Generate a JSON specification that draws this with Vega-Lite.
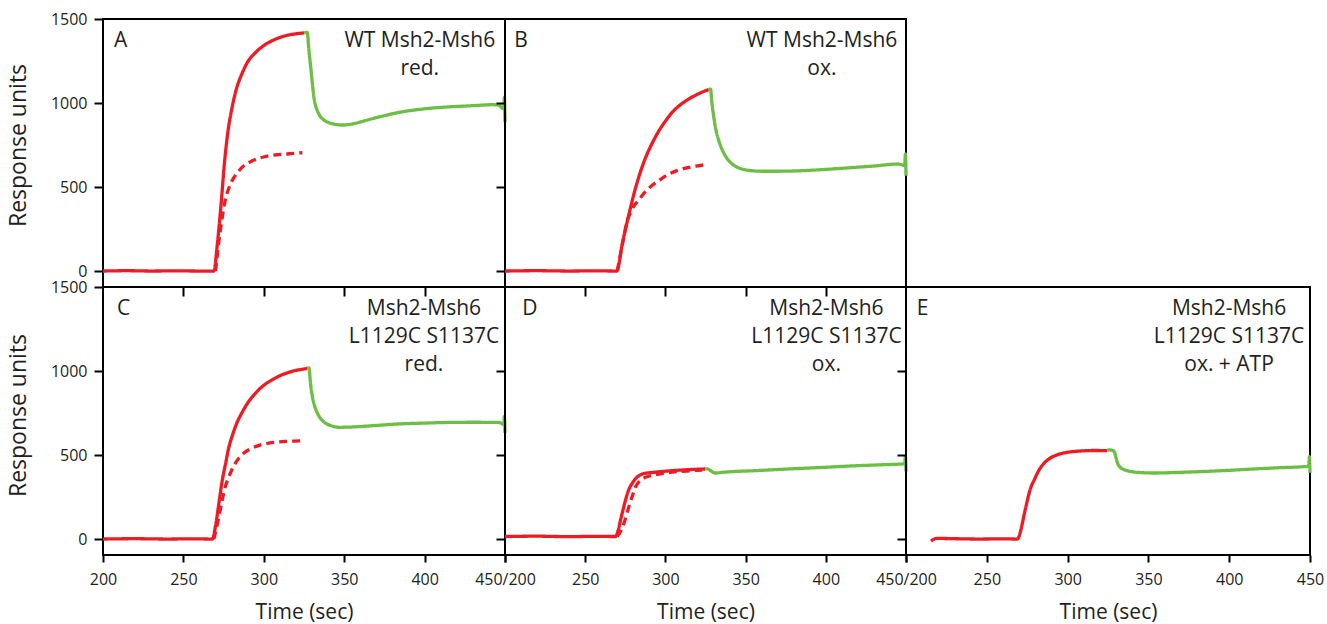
{
  "$schema": "https://vega.github.io/schema/vega-lite/v6.json",
  "padding": {"left": 6, "top": 10, "right": 0, "bottom": 0},
  "background": "white",
  "columns": 3,
  "spacing": 0,
  "bounds": "flush",
  "datasets": {
    "curves": [
      {"panel": "A", "phase": "association", "time": 200, "ru": 0},
      {"panel": "A", "phase": "association", "time": 215, "ru": 2},
      {"panel": "A", "phase": "association", "time": 230, "ru": 0},
      {"panel": "A", "phase": "association", "time": 245, "ru": 1},
      {"panel": "A", "phase": "association", "time": 260, "ru": 0},
      {"panel": "A", "phase": "association", "time": 269, "ru": 0},
      {"panel": "A", "phase": "association", "time": 271, "ru": 150},
      {"panel": "A", "phase": "association", "time": 273, "ru": 350},
      {"panel": "A", "phase": "association", "time": 276, "ru": 690},
      {"panel": "A", "phase": "association", "time": 278, "ru": 850},
      {"panel": "A", "phase": "association", "time": 280, "ru": 960},
      {"panel": "A", "phase": "association", "time": 283, "ru": 1085},
      {"panel": "A", "phase": "association", "time": 286, "ru": 1165},
      {"panel": "A", "phase": "association", "time": 290, "ru": 1245},
      {"panel": "A", "phase": "association", "time": 295, "ru": 1302},
      {"panel": "A", "phase": "association", "time": 300, "ru": 1342},
      {"panel": "A", "phase": "association", "time": 305, "ru": 1370},
      {"panel": "A", "phase": "association", "time": 310, "ru": 1390},
      {"panel": "A", "phase": "association", "time": 315, "ru": 1404},
      {"panel": "A", "phase": "association", "time": 320, "ru": 1412},
      {"panel": "A", "phase": "association", "time": 325, "ru": 1417},
      {"panel": "A", "phase": "dissociation", "time": 325, "ru": 1417},
      {"panel": "A", "phase": "dissociation", "time": 327, "ru": 1420},
      {"panel": "A", "phase": "dissociation", "time": 328, "ru": 1320},
      {"panel": "A", "phase": "dissociation", "time": 329.2, "ru": 1212},
      {"panel": "A", "phase": "dissociation", "time": 331.2, "ru": 1033},
      {"panel": "A", "phase": "dissociation", "time": 334.3, "ru": 934},
      {"panel": "A", "phase": "dissociation", "time": 337, "ru": 902},
      {"panel": "A", "phase": "dissociation", "time": 340.5, "ru": 883},
      {"panel": "A", "phase": "dissociation", "time": 345, "ru": 872},
      {"panel": "A", "phase": "dissociation", "time": 348.8, "ru": 869},
      {"panel": "A", "phase": "dissociation", "time": 355, "ru": 875},
      {"panel": "A", "phase": "dissociation", "time": 363, "ru": 895},
      {"panel": "A", "phase": "dissociation", "time": 373, "ru": 920},
      {"panel": "A", "phase": "dissociation", "time": 384, "ru": 944},
      {"panel": "A", "phase": "dissociation", "time": 395, "ru": 960},
      {"panel": "A", "phase": "dissociation", "time": 404.8, "ru": 970},
      {"panel": "A", "phase": "dissociation", "time": 415, "ru": 977},
      {"panel": "A", "phase": "dissociation", "time": 425.5, "ru": 982},
      {"panel": "A", "phase": "dissociation", "time": 435, "ru": 987},
      {"panel": "A", "phase": "dissociation", "time": 442, "ru": 990},
      {"panel": "A", "phase": "dissociation", "time": 446, "ru": 988},
      {"panel": "A", "phase": "dissociation", "time": 449.2, "ru": 965},
      {"panel": "A", "phase": "dissociation", "time": 449.6, "ru": 1035},
      {"panel": "A", "phase": "dissociation", "time": 450, "ru": 885},
      {"panel": "A", "phase": "fit", "time": 270, "ru": 0},
      {"panel": "A", "phase": "fit", "time": 272, "ru": 170},
      {"panel": "A", "phase": "fit", "time": 274, "ru": 310},
      {"panel": "A", "phase": "fit", "time": 276, "ru": 420},
      {"panel": "A", "phase": "fit", "time": 278.4, "ru": 497},
      {"panel": "A", "phase": "fit", "time": 281, "ru": 550},
      {"panel": "A", "phase": "fit", "time": 284.6, "ru": 597},
      {"panel": "A", "phase": "fit", "time": 288, "ru": 630},
      {"panel": "A", "phase": "fit", "time": 292.9, "ru": 656},
      {"panel": "A", "phase": "fit", "time": 298, "ru": 674},
      {"panel": "A", "phase": "fit", "time": 303.2, "ru": 686},
      {"panel": "A", "phase": "fit", "time": 308, "ru": 692},
      {"panel": "A", "phase": "fit", "time": 313.6, "ru": 696},
      {"panel": "A", "phase": "fit", "time": 318, "ru": 700},
      {"panel": "A", "phase": "fit", "time": 324, "ru": 704},

      {"panel": "B", "phase": "association", "time": 200, "ru": 0},
      {"panel": "B", "phase": "association", "time": 220, "ru": 2},
      {"panel": "B", "phase": "association", "time": 240, "ru": 0},
      {"panel": "B", "phase": "association", "time": 255, "ru": 1},
      {"panel": "B", "phase": "association", "time": 269.7, "ru": 0},
      {"panel": "B", "phase": "association", "time": 273.1, "ru": 161},
      {"panel": "B", "phase": "association", "time": 277.3, "ru": 339},
      {"panel": "B", "phase": "association", "time": 281.5, "ru": 498},
      {"panel": "B", "phase": "association", "time": 287.7, "ru": 676},
      {"panel": "B", "phase": "association", "time": 292, "ru": 765},
      {"panel": "B", "phase": "association", "time": 296, "ru": 835},
      {"panel": "B", "phase": "association", "time": 300, "ru": 892},
      {"panel": "B", "phase": "association", "time": 304.2, "ru": 944},
      {"panel": "B", "phase": "association", "time": 309, "ru": 987},
      {"panel": "B", "phase": "association", "time": 314.6, "ru": 1024},
      {"panel": "B", "phase": "association", "time": 320, "ru": 1052},
      {"panel": "B", "phase": "association", "time": 325, "ru": 1073},
      {"panel": "B", "phase": "association", "time": 327, "ru": 1080},
      {"panel": "B", "phase": "dissociation", "time": 327, "ru": 1080},
      {"panel": "B", "phase": "dissociation", "time": 328.1, "ru": 1083},
      {"panel": "B", "phase": "dissociation", "time": 329, "ru": 1000},
      {"panel": "B", "phase": "dissociation", "time": 330.2, "ru": 914},
      {"panel": "B", "phase": "dissociation", "time": 331.5, "ru": 840},
      {"panel": "B", "phase": "dissociation", "time": 333.3, "ru": 776},
      {"panel": "B", "phase": "dissociation", "time": 336, "ru": 710},
      {"panel": "B", "phase": "dissociation", "time": 339.5, "ru": 657},
      {"panel": "B", "phase": "dissociation", "time": 343, "ru": 628},
      {"panel": "B", "phase": "dissociation", "time": 347.8, "ru": 607},
      {"panel": "B", "phase": "dissociation", "time": 353, "ru": 598},
      {"panel": "B", "phase": "dissociation", "time": 360.2, "ru": 594},
      {"panel": "B", "phase": "dissociation", "time": 370, "ru": 594},
      {"panel": "B", "phase": "dissociation", "time": 387.2, "ru": 598},
      {"panel": "B", "phase": "dissociation", "time": 400, "ru": 605},
      {"panel": "B", "phase": "dissociation", "time": 418.3, "ru": 617},
      {"panel": "B", "phase": "dissociation", "time": 430, "ru": 625},
      {"panel": "B", "phase": "dissociation", "time": 445.2, "ru": 637},
      {"panel": "B", "phase": "dissociation", "time": 449.2, "ru": 628},
      {"panel": "B", "phase": "dissociation", "time": 449.6, "ru": 697},
      {"panel": "B", "phase": "dissociation", "time": 450, "ru": 567},
      {"panel": "B", "phase": "fit", "time": 270, "ru": 0},
      {"panel": "B", "phase": "fit", "time": 273, "ru": 150},
      {"panel": "B", "phase": "fit", "time": 276, "ru": 290},
      {"panel": "B", "phase": "fit", "time": 278.5, "ru": 355},
      {"panel": "B", "phase": "fit", "time": 283.5, "ru": 425},
      {"panel": "B", "phase": "fit", "time": 287, "ru": 467},
      {"panel": "B", "phase": "fit", "time": 291.8, "ru": 510},
      {"panel": "B", "phase": "fit", "time": 297, "ru": 546},
      {"panel": "B", "phase": "fit", "time": 302.2, "ru": 577},
      {"panel": "B", "phase": "fit", "time": 308, "ru": 600},
      {"panel": "B", "phase": "fit", "time": 314.6, "ru": 617},
      {"panel": "B", "phase": "fit", "time": 320, "ru": 626},
      {"panel": "B", "phase": "fit", "time": 325, "ru": 633},

      {"panel": "C", "phase": "association", "time": 200, "ru": 0},
      {"panel": "C", "phase": "association", "time": 220, "ru": 2},
      {"panel": "C", "phase": "association", "time": 240, "ru": 0},
      {"panel": "C", "phase": "association", "time": 255, "ru": 1},
      {"panel": "C", "phase": "association", "time": 268, "ru": 0},
      {"panel": "C", "phase": "association", "time": 270, "ru": 80},
      {"panel": "C", "phase": "association", "time": 272.1, "ru": 214},
      {"panel": "C", "phase": "association", "time": 274, "ru": 340},
      {"panel": "C", "phase": "association", "time": 276.3, "ru": 452},
      {"panel": "C", "phase": "association", "time": 278, "ru": 535},
      {"panel": "C", "phase": "association", "time": 280.4, "ru": 615},
      {"panel": "C", "phase": "association", "time": 283, "ru": 685},
      {"panel": "C", "phase": "association", "time": 286.6, "ru": 755},
      {"panel": "C", "phase": "association", "time": 290, "ru": 810},
      {"panel": "C", "phase": "association", "time": 294.9, "ru": 869},
      {"panel": "C", "phase": "association", "time": 300, "ru": 915},
      {"panel": "C", "phase": "association", "time": 305.3, "ru": 948},
      {"panel": "C", "phase": "association", "time": 310, "ru": 972},
      {"panel": "C", "phase": "association", "time": 315.6, "ru": 992},
      {"panel": "C", "phase": "association", "time": 320, "ru": 1004},
      {"panel": "C", "phase": "association", "time": 325, "ru": 1012},
      {"panel": "C", "phase": "association", "time": 327, "ru": 1016},
      {"panel": "C", "phase": "dissociation", "time": 327, "ru": 1016},
      {"panel": "C", "phase": "dissociation", "time": 328.1, "ru": 1018},
      {"panel": "C", "phase": "dissociation", "time": 329, "ru": 930},
      {"panel": "C", "phase": "dissociation", "time": 330.2, "ru": 849},
      {"panel": "C", "phase": "dissociation", "time": 331.5, "ru": 795},
      {"panel": "C", "phase": "dissociation", "time": 333.3, "ru": 750},
      {"panel": "C", "phase": "dissociation", "time": 335.5, "ru": 715},
      {"panel": "C", "phase": "dissociation", "time": 338.4, "ru": 690},
      {"panel": "C", "phase": "dissociation", "time": 342, "ru": 674},
      {"panel": "C", "phase": "dissociation", "time": 346.8, "ru": 665},
      {"panel": "C", "phase": "dissociation", "time": 355.1, "ru": 667},
      {"panel": "C", "phase": "dissociation", "time": 370, "ru": 676},
      {"panel": "C", "phase": "dissociation", "time": 384, "ru": 685},
      {"panel": "C", "phase": "dissociation", "time": 400, "ru": 690},
      {"panel": "C", "phase": "dissociation", "time": 415.2, "ru": 694},
      {"panel": "C", "phase": "dissociation", "time": 430, "ru": 695},
      {"panel": "C", "phase": "dissociation", "time": 446.3, "ru": 694},
      {"panel": "C", "phase": "dissociation", "time": 449.2, "ru": 682},
      {"panel": "C", "phase": "dissociation", "time": 449.6, "ru": 730},
      {"panel": "C", "phase": "dissociation", "time": 450, "ru": 631},
      {"panel": "C", "phase": "fit", "time": 269, "ru": 0},
      {"panel": "C", "phase": "fit", "time": 272, "ru": 130},
      {"panel": "C", "phase": "fit", "time": 274.2, "ru": 234},
      {"panel": "C", "phase": "fit", "time": 276, "ru": 310},
      {"panel": "C", "phase": "fit", "time": 278.4, "ru": 373},
      {"panel": "C", "phase": "fit", "time": 281, "ru": 430},
      {"panel": "C", "phase": "fit", "time": 284.6, "ru": 482},
      {"panel": "C", "phase": "fit", "time": 288, "ru": 515},
      {"panel": "C", "phase": "fit", "time": 292.9, "ru": 542},
      {"panel": "C", "phase": "fit", "time": 298, "ru": 560},
      {"panel": "C", "phase": "fit", "time": 303.2, "ru": 571},
      {"panel": "C", "phase": "fit", "time": 308, "ru": 577},
      {"panel": "C", "phase": "fit", "time": 313.6, "ru": 581},
      {"panel": "C", "phase": "fit", "time": 319, "ru": 583},
      {"panel": "C", "phase": "fit", "time": 325, "ru": 585},

      {"panel": "D", "phase": "association", "time": 200, "ru": 15},
      {"panel": "D", "phase": "association", "time": 220, "ru": 17},
      {"panel": "D", "phase": "association", "time": 240, "ru": 14},
      {"panel": "D", "phase": "association", "time": 255, "ru": 16},
      {"panel": "D", "phase": "association", "time": 269, "ru": 15},
      {"panel": "D", "phase": "association", "time": 270.5, "ru": 50},
      {"panel": "D", "phase": "association", "time": 272.1, "ru": 115},
      {"panel": "D", "phase": "association", "time": 275.2, "ru": 234},
      {"panel": "D", "phase": "association", "time": 277, "ru": 290},
      {"panel": "D", "phase": "association", "time": 279.4, "ru": 333},
      {"panel": "D", "phase": "association", "time": 282, "ru": 365},
      {"panel": "D", "phase": "association", "time": 284.6, "ru": 383},
      {"panel": "D", "phase": "association", "time": 288, "ru": 392},
      {"panel": "D", "phase": "association", "time": 291.8, "ru": 396},
      {"panel": "D", "phase": "association", "time": 298, "ru": 402},
      {"panel": "D", "phase": "association", "time": 304.2, "ru": 407},
      {"panel": "D", "phase": "association", "time": 314.6, "ru": 413},
      {"panel": "D", "phase": "association", "time": 325, "ru": 417},
      {"panel": "D", "phase": "dissociation", "time": 325, "ru": 417},
      {"panel": "D", "phase": "dissociation", "time": 326, "ru": 418},
      {"panel": "D", "phase": "dissociation", "time": 328, "ru": 408},
      {"panel": "D", "phase": "dissociation", "time": 330, "ru": 396},
      {"panel": "D", "phase": "dissociation", "time": 331.2, "ru": 393},
      {"panel": "D", "phase": "dissociation", "time": 335.4, "ru": 397},
      {"panel": "D", "phase": "dissociation", "time": 356.1, "ru": 407},
      {"panel": "D", "phase": "dissociation", "time": 376.8, "ru": 417},
      {"panel": "D", "phase": "dissociation", "time": 397.5, "ru": 426},
      {"panel": "D", "phase": "dissociation", "time": 418.3, "ru": 436},
      {"panel": "D", "phase": "dissociation", "time": 435, "ru": 442},
      {"panel": "D", "phase": "dissociation", "time": 449.2, "ru": 448},
      {"panel": "D", "phase": "dissociation", "time": 449.6, "ru": 492},
      {"panel": "D", "phase": "dissociation", "time": 450, "ru": 402},
      {"panel": "D", "phase": "fit", "time": 270, "ru": 15},
      {"panel": "D", "phase": "fit", "time": 272, "ru": 45},
      {"panel": "D", "phase": "fit", "time": 274.2, "ru": 95},
      {"panel": "D", "phase": "fit", "time": 277.3, "ru": 194},
      {"panel": "D", "phase": "fit", "time": 279.5, "ru": 260},
      {"panel": "D", "phase": "fit", "time": 281.5, "ru": 313},
      {"panel": "D", "phase": "fit", "time": 284, "ru": 345},
      {"panel": "D", "phase": "fit", "time": 286.6, "ru": 363},
      {"panel": "D", "phase": "fit", "time": 290, "ru": 375},
      {"panel": "D", "phase": "fit", "time": 293.9, "ru": 383},
      {"panel": "D", "phase": "fit", "time": 299, "ru": 392},
      {"panel": "D", "phase": "fit", "time": 304.2, "ru": 399},
      {"panel": "D", "phase": "fit", "time": 313, "ru": 405},
      {"panel": "D", "phase": "fit", "time": 322.9, "ru": 411},

      {"panel": "E", "phase": "association", "time": 215.5, "ru": -12},
      {"panel": "E", "phase": "association", "time": 219, "ru": 4},
      {"panel": "E", "phase": "association", "time": 230, "ru": 2},
      {"panel": "E", "phase": "association", "time": 245, "ru": 0},
      {"panel": "E", "phase": "association", "time": 260, "ru": 1},
      {"panel": "E", "phase": "association", "time": 269, "ru": 0},
      {"panel": "E", "phase": "association", "time": 271.1, "ru": 55},
      {"panel": "E", "phase": "association", "time": 273, "ru": 140},
      {"panel": "E", "phase": "association", "time": 275.2, "ru": 234},
      {"panel": "E", "phase": "association", "time": 277, "ru": 300},
      {"panel": "E", "phase": "association", "time": 279.4, "ru": 353},
      {"panel": "E", "phase": "association", "time": 282, "ru": 405},
      {"panel": "E", "phase": "association", "time": 285.5, "ru": 452},
      {"panel": "E", "phase": "association", "time": 289, "ru": 480},
      {"panel": "E", "phase": "association", "time": 293.8, "ru": 502},
      {"panel": "E", "phase": "association", "time": 298, "ru": 513},
      {"panel": "E", "phase": "association", "time": 304.1, "ru": 521},
      {"panel": "E", "phase": "association", "time": 310, "ru": 525},
      {"panel": "E", "phase": "association", "time": 316.4, "ru": 527},
      {"panel": "E", "phase": "association", "time": 324.7, "ru": 526},
      {"panel": "E", "phase": "dissociation", "time": 324.7, "ru": 526},
      {"panel": "E", "phase": "dissociation", "time": 325.7, "ru": 531},
      {"panel": "E", "phase": "dissociation", "time": 328.8, "ru": 522},
      {"panel": "E", "phase": "dissociation", "time": 329.8, "ru": 490},
      {"panel": "E", "phase": "dissociation", "time": 330.9, "ru": 452},
      {"panel": "E", "phase": "dissociation", "time": 332.5, "ru": 428},
      {"panel": "E", "phase": "dissociation", "time": 335, "ru": 413},
      {"panel": "E", "phase": "dissociation", "time": 339, "ru": 402},
      {"panel": "E", "phase": "dissociation", "time": 343.2, "ru": 397},
      {"panel": "E", "phase": "dissociation", "time": 353.5, "ru": 393},
      {"panel": "E", "phase": "dissociation", "time": 370, "ru": 397},
      {"panel": "E", "phase": "dissociation", "time": 384.4, "ru": 402},
      {"panel": "E", "phase": "dissociation", "time": 400, "ru": 409},
      {"panel": "E", "phase": "dissociation", "time": 415.3, "ru": 417},
      {"panel": "E", "phase": "dissociation", "time": 430, "ru": 424},
      {"panel": "E", "phase": "dissociation", "time": 449.2, "ru": 433},
      {"panel": "E", "phase": "dissociation", "time": 449.6, "ru": 490},
      {"panel": "E", "phase": "dissociation", "time": 450, "ru": 395}
    ]
  },
  "concat": [
    {
      "width": 402, "height": 268,
      "layer": [
        {
          "data": {"name": "curves"},
          "transform": [{"filter": "datum.panel === 'A'"}],
          "mark": {"type": "line", "strokeWidth": 3.3, "interpolate": "monotone"},
          "encoding": {
            "x": {"field": "time", "type": "quantitative", "scale": {"domain": [200, 450], "nice": false, "zero": false},
                  "axis": {"values": [250, 300, 350, 400], "labels": false, "tickSize": 9, "title": null}},
            "y": {"field": "ru", "type": "quantitative", "scale": {"domain": [-95, 1500], "nice": false, "zero": false},
                  "axis": {"values": [0, 500, 1000, 1500], "format": "d", "tickSize": 9, "labelPadding": 7, "title": "Response units", "titlePadding": 20, "titleFontSize": 23, "titleY": 126}},
            "color": {"field": "phase", "type": "nominal", "scale": {"domain": ["association", "dissociation", "fit"], "range": ["#ED1C24", "#6CBE45", "#ED1C24"]}, "legend": null},
            "strokeDash": {"field": "phase", "type": "nominal", "scale": {"domain": ["association", "dissociation", "fit"], "range": [[1, 0], [1, 0], [8, 5]]}, "legend": null}
          }
        },
        {
          "data": {"values": [{}]},
          "mark": {"type": "text", "text": "A", "align": "left", "baseline": "alphabetic"},
          "encoding": {"x": {"datum": 206.8, "type": "quantitative"}, "y": {"datum": 1331, "type": "quantitative"}}
        },
        {
          "data": {"values": [{}]},
          "mark": {"type": "text", "text": ["WT Msh2-Msh6", "red."], "align": "center", "baseline": "alphabetic", "lineHeight": 28},
          "encoding": {"x": {"datum": 397, "type": "quantitative"}, "y": {"datum": 1331, "type": "quantitative"}}
        }
      ]
    },
    {
      "width": 401, "height": 268,
      "layer": [
        {
          "data": {"name": "curves"},
          "transform": [{"filter": "datum.panel === 'B'"}],
          "mark": {"type": "line", "strokeWidth": 3.3, "interpolate": "monotone"},
          "encoding": {
            "x": {"field": "time", "type": "quantitative", "scale": {"domain": [200, 450], "nice": false, "zero": false},
                  "axis": {"values": [250, 300, 350, 400], "labels": false, "tickSize": 9, "title": null}},
            "y": {"field": "ru", "type": "quantitative", "scale": {"domain": [-95, 1500], "nice": false, "zero": false},
                  "axis": {"values": [0, 500, 1000], "labels": false, "tickSize": 9, "title": null}},
            "color": {"field": "phase", "type": "nominal", "scale": {"domain": ["association", "dissociation", "fit"], "range": ["#ED1C24", "#6CBE45", "#ED1C24"]}, "legend": null},
            "strokeDash": {"field": "phase", "type": "nominal", "scale": {"domain": ["association", "dissociation", "fit"], "range": [[1, 0], [1, 0], [8, 5]]}, "legend": null}
          }
        },
        {
          "data": {"values": [{}]},
          "mark": {"type": "text", "text": "B", "align": "left", "baseline": "alphabetic"},
          "encoding": {"x": {"datum": 205.8, "type": "quantitative"}, "y": {"datum": 1331, "type": "quantitative"}}
        },
        {
          "data": {"values": [{}]},
          "mark": {"type": "text", "text": ["WT Msh2-Msh6", "ox."], "align": "center", "baseline": "alphabetic", "lineHeight": 28},
          "encoding": {"x": {"datum": 397.6, "type": "quantitative"}, "y": {"datum": 1331, "type": "quantitative"}}
        }
      ]
    },
    {
      "width": 404, "height": 268,
      "view": {"stroke": null},
      "data": {"values": [{}]},
      "mark": {"type": "text", "text": ""}
    },
    {
      "width": 402, "height": 268,
      "layer": [
        {
          "data": {"name": "curves"},
          "transform": [{"filter": "datum.panel === 'C'"}],
          "mark": {"type": "line", "strokeWidth": 3.3, "interpolate": "monotone"},
          "encoding": {
            "x": {"field": "time", "type": "quantitative", "scale": {"domain": [200, 450], "nice": false, "zero": false},
                  "axis": {"values": [200, 250, 300, 350, 400, 450], "labelExpr": "datum.value === 450 ? '450/200' : datum.label", "tickSize": 7, "labelPadding": 9, "title": "Time (sec)", "titlePadding": 14}},
            "y": {"field": "ru", "type": "quantitative", "scale": {"domain": [-95, 1500], "nice": false, "zero": false},
                  "axis": {"values": [0, 500, 1000, 1500], "format": "d", "tickSize": 9, "labelPadding": 7, "title": "Response units", "titlePadding": 20, "titleFontSize": 23, "titleY": 128}},
            "color": {"field": "phase", "type": "nominal", "scale": {"domain": ["association", "dissociation", "fit"], "range": ["#ED1C24", "#6CBE45", "#ED1C24"]}, "legend": null},
            "strokeDash": {"field": "phase", "type": "nominal", "scale": {"domain": ["association", "dissociation", "fit"], "range": [[1, 0], [1, 0], [8, 5]]}, "legend": null}
          }
        },
        {
          "data": {"values": [{}]},
          "mark": {"type": "text", "text": "C", "align": "left", "baseline": "alphabetic"},
          "encoding": {"x": {"datum": 208.7, "type": "quantitative"}, "y": {"datum": 1331, "type": "quantitative"}}
        },
        {
          "data": {"values": [{}]},
          "mark": {"type": "text", "text": ["Msh2-Msh6", "L1129C S1137C", "red."], "align": "center", "baseline": "alphabetic", "lineHeight": 28},
          "encoding": {"x": {"datum": 399.6, "type": "quantitative"}, "y": {"datum": 1331, "type": "quantitative"}}
        }
      ]
    },
    {
      "width": 401, "height": 268,
      "layer": [
        {
          "data": {"name": "curves"},
          "transform": [{"filter": "datum.panel === 'D'"}],
          "mark": {"type": "line", "strokeWidth": 3.3, "interpolate": "monotone"},
          "encoding": {
            "x": {"field": "time", "type": "quantitative", "scale": {"domain": [200, 450], "nice": false, "zero": false},
                  "axis": {"values": [200, 250, 300, 350, 400, 450], "labelExpr": "datum.value === 200 ? '' : datum.value === 450 ? '450/200' : datum.label", "tickSize": 7, "labelPadding": 9, "title": "Time (sec)", "titlePadding": 14}},
            "y": {"field": "ru", "type": "quantitative", "scale": {"domain": [-95, 1500], "nice": false, "zero": false},
                  "axis": {"values": [0, 500, 1000], "labels": false, "tickSize": 9, "title": null}},
            "color": {"field": "phase", "type": "nominal", "scale": {"domain": ["association", "dissociation", "fit"], "range": ["#ED1C24", "#6CBE45", "#ED1C24"]}, "legend": null},
            "strokeDash": {"field": "phase", "type": "nominal", "scale": {"domain": ["association", "dissociation", "fit"], "range": [[1, 0], [1, 0], [8, 5]]}, "legend": null}
          }
        },
        {
          "data": {"values": [{}]},
          "mark": {"type": "text", "text": "D", "align": "left", "baseline": "alphabetic"},
          "encoding": {"x": {"datum": 210.8, "type": "quantitative"}, "y": {"datum": 1331, "type": "quantitative"}}
        },
        {
          "data": {"values": [{}]},
          "mark": {"type": "text", "text": ["Msh2-Msh6", "L1129C S1137C", "ox."], "align": "center", "baseline": "alphabetic", "lineHeight": 28},
          "encoding": {"x": {"datum": 400.4, "type": "quantitative"}, "y": {"datum": 1331, "type": "quantitative"}}
        }
      ]
    },
    {
      "width": 404, "height": 268,
      "layer": [
        {
          "data": {"name": "curves"},
          "transform": [{"filter": "datum.panel === 'E'"}],
          "mark": {"type": "line", "strokeWidth": 3.3, "interpolate": "monotone"},
          "encoding": {
            "x": {"field": "time", "type": "quantitative", "scale": {"domain": [200, 450], "nice": false, "zero": false},
                  "axis": {"values": [200, 250, 300, 350, 400, 450], "labelExpr": "datum.value === 200 ? '' : datum.label", "tickSize": 7, "labelPadding": 9, "title": "Time (sec)", "titlePadding": 14}},
            "y": {"field": "ru", "type": "quantitative", "scale": {"domain": [-95, 1500], "nice": false, "zero": false},
                  "axis": {"values": [0, 500, 1000], "labels": false, "tickSize": 9, "title": null}},
            "color": {"field": "phase", "type": "nominal", "scale": {"domain": ["association", "dissociation", "fit"], "range": ["#ED1C24", "#6CBE45", "#ED1C24"]}, "legend": null},
            "strokeDash": {"field": "phase", "type": "nominal", "scale": {"domain": ["association", "dissociation", "fit"], "range": [[1, 0], [1, 0], [8, 5]]}, "legend": null}
          }
        },
        {
          "data": {"values": [{}]},
          "mark": {"type": "text", "text": "E", "align": "left", "baseline": "alphabetic"},
          "encoding": {"x": {"datum": 206.6, "type": "quantitative"}, "y": {"datum": 1331, "type": "quantitative"}}
        },
        {
          "data": {"values": [{}]},
          "mark": {"type": "text", "text": ["Msh2-Msh6", "L1129C S1137C", "ox. + ATP"], "align": "center", "baseline": "alphabetic", "lineHeight": 28},
          "encoding": {"x": {"datum": 399.9, "type": "quantitative"}, "y": {"datum": 1331, "type": "quantitative"}}
        }
      ]
    }
  ],
  "config": {
    "view": {"stroke": "#000000", "strokeWidth": 2},
    "axis": {"grid": false, "domain": false, "tickColor": "#000000", "tickWidth": 2,
             "labelFont": "Open Sans", "labelFontSize": 16, "labelColor": "#231f20",
             "titleFont": "Open Sans", "titleFontSize": 21, "titleFontWeight": "normal", "titleColor": "#231f20",
             "labelOverlap": false, "labelFlush": false},
    "text": {"font": "Open Sans", "fontSize": 21, "color": "#231f20"}
  }
}
